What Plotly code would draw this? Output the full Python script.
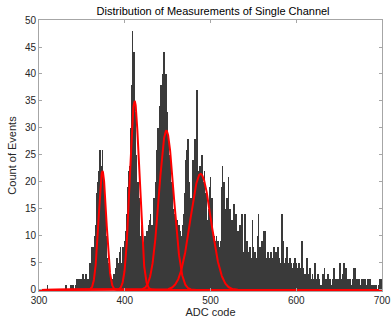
import plotly.graph_objects as go
import numpy as np

# ADC codes 300..699 (one bin per code)
adc_start = 300
counts = [
    0, 0, 0, 0, 0, 0, 0, 0, 0, 0,          # 300
    1, 0, 0, 0, 0, 0, 0, 0, 0, 0,          # 310
    0, 0, 0, 0, 0, 0, 0, 0, 0, 0,          # 320
    0, 1, 0, 0, 0, 0, 0, 1, 0, 1,          # 330
    1, 0, 0, 1, 2, 2, 0, 2, 2, 1,          # 340
    2, 3, 2, 0, 2, 3, 2, 2, 1, 5,          # 350
    3, 3, 8, 8, 5, 10, 12, 18, 16, 20,     # 360
    22, 26, 20, 23, 26, 21, 18, 14, 10, 6, # 370
    5, 4, 4, 3, 2, 1, 2, 3, 1, 2,          # 380
    4, 6, 5, 3, 7, 8, 5, 4, 8, 6,          # 390
    9, 11, 10, 14, 19, 22, 23, 30, 38, 48, # 400
    40, 44, 33, 25, 20, 14, 20, 17, 10, 8, # 410
    12, 8, 6, 7, 10, 8, 11, 9, 12, 13,     # 420
    14, 12, 10, 12, 17, 15, 20, 22, 26, 30,# 430
    28, 34, 38, 30, 40, 36, 44, 37, 40, 33,# 440
    28, 24, 22, 25, 17, 20, 15, 14, 13, 14,# 450
    11, 13, 10, 12, 9, 11, 8, 10, 12, 14,  # 460
    18, 24, 26, 22, 28, 20, 14, 17, 12, 16,# 470
    24, 22, 28, 26, 37, 22, 19, 17, 23, 18,# 480
    25, 20, 17, 22, 14, 18, 11, 13, 15, 19,# 490
    21, 12, 17, 9, 10, 8, 9, 10, 7, 9,     # 500
    8, 7, 9, 19, 23, 18, 20, 15, 13, 17,   # 510
    14, 21, 12, 15, 11, 13, 10, 16, 9, 12, # 520
    14, 8, 11, 9, 12, 6, 8, 14, 7, 5,      # 530
    14, 8, 6, 9, 5, 7, 8, 6, 4, 13,        # 540
    8, 5, 7, 6, 4, 10, 14, 6, 8, 5,        # 550
    9, 7, 11, 10, 11, 6, 4, 7, 5, 6,       # 560
    5, 7, 4, 6, 8, 5, 7, 6, 5, 8,          # 570
    6, 4, 5, 14, 7, 9, 5, 4, 6, 8,         # 580
    5, 3, 4, 6, 5, 4, 3, 5, 2, 6,          # 590
    5, 3, 4, 5, 2, 4, 3, 9, 4, 2,          # 600
    3, 2, 1, 6, 3, 2, 4, 1, 2, 3,          # 610
    2, 1, 5, 2, 1, 3, 1, 2, 0, 1,          # 620
    1, 3, 2, 4, 1, 2, 1, 3, 2, 0,          # 630
    2, 1, 1, 2, 4, 0, 2, 1, 1, 2,          # 640
    1, 5, 1, 2, 1, 3, 5, 4, 4, 1,          # 650
    2, 1, 1, 2, 0, 1, 2, 4, 1, 4,          # 660
    1, 2, 1, 2, 1, 0, 1, 2, 2, 1,          # 670
    2, 1, 0, 1, 2, 1, 2, 1, 0, 1,          # 680
    1, 0, 1, 1, 0, 0, 1, 0, 2, 2,          # 690
]
adc_codes = list(range(adc_start, adc_start + len(counts)))

# Gaussian fit parameters
fit_centers = [374.0, 411.5, 448.5, 488.5]
fit_amplitudes = [22.0, 35.0, 29.5, 21.5]
fit_sigmas = [4.5, 5.5, 8.5, 12.0]

x_ticks = [300, 400, 500, 600, 700]
y_ticks = [0, 5, 10, 15, 20, 25, 30, 35, 40, 45, 50]

fig = go.Figure()
fig.add_trace(go.Bar(x=adc_codes, y=counts, width=1.0,
                     marker=dict(color="#3a3a3a", line=dict(width=0)),
                     showlegend=False))

xf = np.linspace(300, 700, 2001)
for mu, a, s in zip(fit_centers, fit_amplitudes, fit_sigmas):
    fig.add_trace(go.Scatter(x=xf, y=a * np.exp(-(xf - mu) ** 2 / (2 * s * s)),
                             mode="lines", line=dict(color="#ff0000", width=2),
                             showlegend=False, hoverinfo="skip"))

axis_common = dict(showgrid=False, zeroline=False, showline=True, linecolor="#a6a6a6",
                   linewidth=1, mirror="ticks", ticks="inside", ticklen=3,
                   tickcolor="#a6a6a6", tickfont=dict(size=10, color="#262626"),
                   automargin=False)

fig.update_layout(
    width=391, height=320,
    margin=dict(l=39, r=9, t=20, b=29),
    paper_bgcolor="white", plot_bgcolor="white",
    font=dict(family="Liberation Sans, Arial, sans-serif", color="#262626"),
    bargap=0,
    title=dict(text="Distribution of Measurements of Single Channel", x=0.545, xanchor="center",
               y=0.965, yanchor="middle", font=dict(size=11, color="#000000")),
    xaxis=dict(range=[300, 700], tickvals=x_ticks, title=dict(text="ADC code", font=dict(size=11), standoff=0),
               **axis_common),
    yaxis=dict(range=[-0.19, 50], tickvals=y_ticks, title=dict(text="Count of Events", font=dict(size=11), standoff=6),
               **axis_common),
)

fig.write_html("out.html", config={"displayModeBar": False},
               post_script="document.body.style.margin='0px';document.body.style.overflow='hidden';")
